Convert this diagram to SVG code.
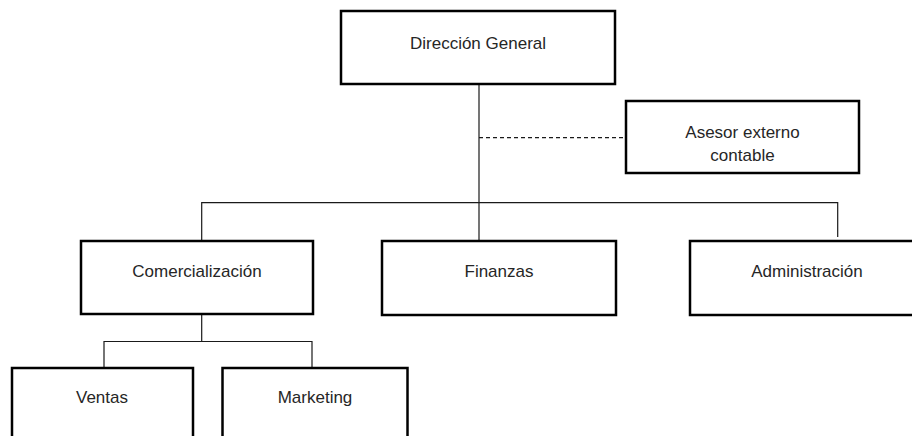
<svg xmlns="http://www.w3.org/2000/svg" width="912" height="436" viewBox="0 0 912 436">
<style>
.box{fill:#fff;stroke:#000;stroke-width:2.5}
.lbl{font-family:"Liberation Sans",Arial,sans-serif;font-size:17px;fill:#262626;text-anchor:middle}
.ln{fill:none;stroke:#1a1a1a;stroke-width:1.2}
.dash{fill:none;stroke:#1a1a1a;stroke-width:1.2;stroke-dasharray:4 3}
</style>
<rect width="912" height="436" fill="#fff"/>
<g id="connectors">
<path class="ln" d="M479 84 V241"/>
<path class="dash" d="M479 137.7 H626"/>
<path class="ln" d="M201.7 241 V202.7 H837.7 V237"/>
<path class="ln" d="M201.7 314 V341.5 M104 368 V341.5 H312 V368"/>
</g>
<g id="n-direccion">
<rect class="box" x="341" y="11" width="274" height="73"/>
<text class="lbl" x="478" y="49">Dirección General</text>
</g>
<g id="n-asesor">
<rect class="box" x="626" y="101" width="233" height="72"/>
<text class="lbl" x="742.5" y="138">Asesor externo</text>
<text class="lbl" x="742.5" y="161">contable</text>
</g>
<g id="n-comercializacion">
<rect class="box" x="81" y="241" width="232" height="73"/>
<text class="lbl" x="197" y="277">Comercialización</text>
</g>
<g id="n-finanzas">
<rect class="box" x="382" y="241" width="234" height="74"/>
<text class="lbl" x="499" y="277">Finanzas</text>
</g>
<g id="n-administracion">
<rect class="box" x="690" y="241" width="240" height="74"/>
<text class="lbl" x="807" y="277">Administración</text>
</g>
<g id="n-ventas">
<rect class="box" x="12" y="368" width="181" height="90"/>
<text class="lbl" x="102" y="403">Ventas</text>
</g>
<g id="n-marketing">
<rect class="box" x="222.5" y="368" width="185" height="90"/>
<text class="lbl" x="315" y="403">Marketing</text>
</g>
</svg>
